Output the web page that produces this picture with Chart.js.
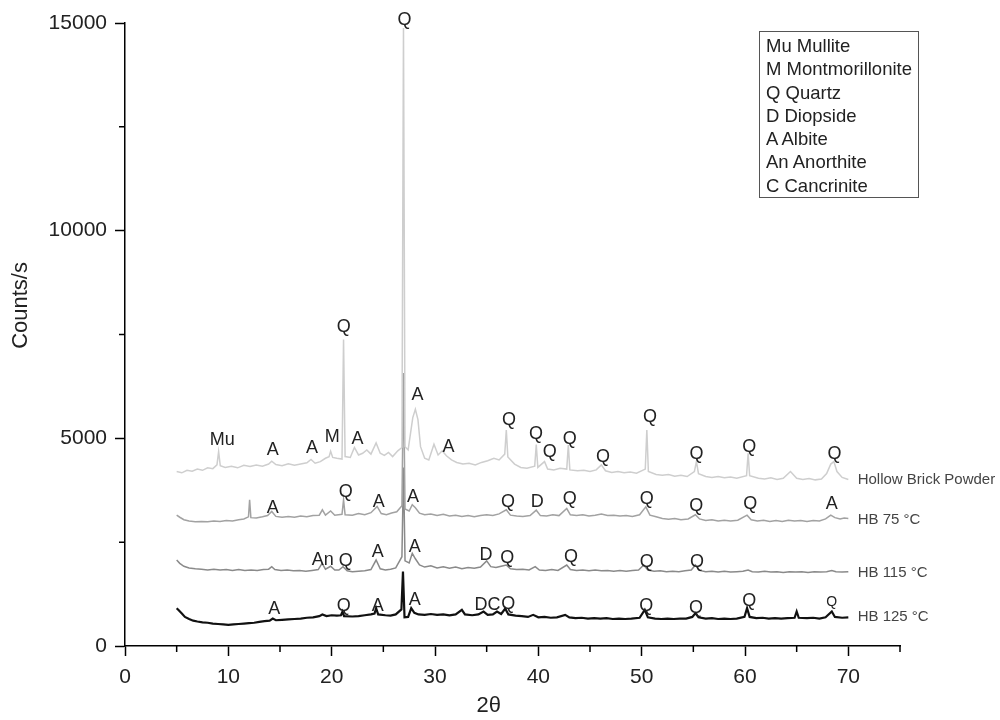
<!DOCTYPE html>
<html>
<head>
<meta charset="utf-8">
<script src="https://cdn.jsdelivr.net/npm/chart.js@4.4.1/dist/chart.umd.min.js"></script>
<style>
  body { margin: 0; background: #fff; }
  #wrap { position: relative; width: 1000px; height: 720px; }
  #phases {
    position: absolute; left: 759px; top: 31px; width: 160px; height: 167px;
    box-sizing: border-box; border: 1px solid #555; padding: 2px 0 0 6px;
    font: 18.5px "Liberation Sans", Arial, sans-serif; line-height: 23.3px; color: #222;
  }
</style>
</head>
<body>
<div id="wrap">
  <canvas id="chart"></canvas>
  <div id="phases"></div>
</div>
<script>
// XRD patterns, 2θ vs counts/s (curves are already offset in the picture)
const hollowBrick = [[5.0,4200],[5.5,4170],[6.0,4230],[6.5,4210],[7.0,4260],[7.5,4230],[8.0,4290],[8.5,4270],[8.9,4360],[9.06,4680],[9.22,4340],[9.7,4300],[10.3,4330],[10.9,4290],[11.5,4350],[12.1,4320],[12.7,4360],[13.3,4330],[13.9,4380],[14.2,4450],[14.6,4370],[15.2,4340],[15.8,4390],[16.4,4350],[17.0,4380],[17.6,4410],[18.0,4490],[18.4,4400],[18.9,4440],[19.4,4520],[19.75,4560],[19.9,4690],[20.1,4540],[20.5,4520],[21.0,4500],[21.15,7380],[21.3,4560],[21.8,4540],[22.2,4780],[22.6,4600],[23.0,4640],[23.4,4720],[23.8,4620],[24.3,4890],[24.7,4640],[25.1,4590],[25.5,4660],[25.9,4560],[26.4,4700],[26.8,4780],[26.95,14880],[27.1,4800],[27.4,4720],[27.85,5500],[28.1,5700],[28.35,5450],[28.6,4800],[29.0,4520],[29.4,4480],[29.9,4860],[30.3,4600],[30.7,4700],[31.1,4580],[31.6,4480],[32.1,4420],[32.7,4380],[33.3,4400],[33.9,4360],[34.5,4420],[35.1,4460],[35.7,4520],[36.2,4480],[36.75,4620],[36.9,5200],[37.05,4550],[37.7,4380],[38.3,4300],[38.9,4280],[39.65,4330],[39.8,4850],[39.95,4300],[40.6,4440],[40.9,4260],[41.5,4240],[42.1,4280],[42.75,4260],[42.9,4840],[43.05,4240],[43.8,4220],[44.4,4230],[45.0,4200],[45.6,4240],[46.1,4360],[46.5,4220],[47.1,4180],[47.7,4200],[48.3,4170],[48.9,4190],[49.5,4160],[50.35,4260],[50.5,5200],[50.65,4200],[51.4,4130],[52.0,4110],[52.6,4130],[53.2,4090],[53.8,4110],[54.4,4080],[55.1,4200],[55.3,4440],[55.5,4150],[56.2,4080],[56.8,4060],[57.4,4080],[58.0,4050],[58.6,4070],[59.2,4040],[60.15,4100],[60.3,4640],[60.45,4100],[61.3,4040],[61.9,4020],[62.5,4050],[63.1,4010],[63.7,4040],[64.4,4200],[65.0,4040],[65.6,4010],[66.2,4030],[66.8,4000],[67.4,4020],[67.9,4150],[68.3,4380],[68.6,4440],[68.9,4200],[69.4,4060],[70.0,4010]];

const hb75 = [[5.0,3150],[5.3,3100],[5.7,3040],[6.2,3010],[6.8,2990],[7.4,3000],[8.0,2990],[8.6,3010],[9.2,3000],[9.8,3020],[10.4,3010],[11.0,3040],[11.5,3060],[11.95,3110],[12.06,3520],[12.18,3090],[12.7,3080],[13.3,3110],[13.8,3140],[14.2,3240],[14.6,3120],[15.2,3100],[15.8,3120],[16.4,3100],[17.0,3130],[17.6,3110],[18.2,3140],[18.8,3150],[19.1,3280],[19.4,3150],[19.9,3250],[20.3,3150],[21.0,3170],[21.15,3520],[21.3,3160],[22.0,3150],[22.6,3190],[23.2,3160],[23.8,3210],[24.4,3360],[24.8,3190],[25.3,3160],[25.8,3200],[26.3,3230],[26.8,3380],[26.95,6570],[27.1,3300],[27.5,3250],[27.8,3400],[28.1,3330],[28.5,3200],[29.0,3160],[29.6,3180],[30.2,3140],[30.8,3170],[31.4,3130],[32.0,3150],[32.6,3120],[33.2,3140],[33.8,3110],[34.4,3140],[35.0,3160],[35.6,3140],[36.2,3180],[36.9,3280],[37.3,3150],[37.9,3130],[38.5,3120],[39.2,3140],[39.8,3270],[40.2,3140],[40.8,3130],[41.4,3160],[42.0,3140],[42.75,3310],[43.1,3160],[43.7,3140],[44.3,3160],[44.9,3130],[45.5,3150],[46.1,3180],[46.7,3140],[47.3,3150],[47.9,3130],[48.5,3140],[49.1,3120],[49.8,3160],[50.4,3350],[50.8,3150],[51.4,3110],[52.0,3070],[52.6,3050],[53.2,3070],[53.8,3040],[54.5,3060],[55.2,3160],[55.6,3060],[56.2,3020],[56.8,3040],[57.4,3010],[58.0,3030],[58.6,3010],[59.3,3030],[60.2,3150],[60.6,3040],[61.2,3010],[61.8,3030],[62.4,3000],[63.0,3020],[63.6,3000],[64.2,3030],[64.8,3010],[65.4,3020],[66.0,3000],[66.6,3020],[67.2,3010],[67.8,3060],[68.3,3150],[68.7,3090],[69.2,3060],[69.6,3080],[70.0,3070]];

const hb115 = [[5.0,2070],[5.3,1990],[5.7,1920],[6.2,1880],[6.8,1860],[7.4,1850],[8.0,1830],[8.6,1850],[9.2,1830],[9.8,1840],[10.4,1820],[11.0,1840],[11.6,1820],[12.2,1830],[12.8,1820],[13.4,1840],[13.9,1850],[14.2,1910],[14.5,1840],[15.1,1820],[15.7,1830],[16.3,1810],[16.9,1820],[17.5,1800],[18.1,1820],[18.7,1840],[19.07,1990],[19.4,1850],[19.9,1920],[20.3,1830],[20.7,1830],[21.1,1910],[21.5,1810],[22.0,1790],[22.6,1800],[23.2,1810],[23.8,1840],[24.3,2070],[24.7,1860],[25.2,1830],[25.7,1850],[26.2,1880],[26.8,2150],[26.95,4300],[27.1,2050],[27.5,2000],[27.8,2230],[28.1,2100],[28.5,1950],[29.0,1900],[29.6,1930],[30.2,1880],[30.8,1910],[31.4,1870],[32.0,1900],[32.6,1860],[33.2,1890],[33.8,1870],[34.4,1900],[35.0,2050],[35.4,1910],[35.9,1890],[36.4,1920],[36.9,1950],[37.3,1860],[37.9,1840],[38.5,1850],[39.1,1830],[39.7,1910],[40.1,1830],[40.7,1820],[41.3,1840],[41.9,1820],[42.75,1950],[43.1,1840],[43.7,1820],[44.3,1830],[44.9,1810],[45.5,1830],[46.1,1810],[46.7,1820],[47.3,1800],[47.9,1820],[48.5,1800],[49.1,1820],[49.7,1830],[50.2,1950],[50.6,1830],[51.2,1800],[51.8,1810],[52.4,1790],[53.0,1800],[53.6,1790],[54.2,1810],[54.8,1830],[55.2,1950],[55.6,1820],[56.2,1790],[56.8,1800],[57.4,1780],[58.0,1800],[58.6,1780],[59.2,1790],[59.8,1800],[60.3,1830],[60.7,1790],[61.3,1780],[61.9,1800],[62.5,1780],[63.1,1790],[63.7,1770],[64.3,1790],[64.9,1780],[65.5,1790],[66.1,1770],[66.7,1790],[67.3,1780],[67.9,1790],[68.4,1820],[68.8,1790],[69.4,1780],[70.0,1790]];

const hb125 = [[5.0,910],[5.2,860],[5.5,780],[5.8,700],[6.2,650],[6.6,610],[7.0,590],[7.5,570],[8.0,560],[8.5,540],[9.0,530],[9.5,520],[10.0,510],[10.5,520],[11.0,530],[11.5,540],[12.0,550],[12.5,560],[13.0,580],[13.5,600],[14.0,610],[14.3,660],[14.6,620],[15.2,630],[15.8,640],[16.4,650],[17.0,660],[17.6,680],[18.2,690],[18.8,720],[19.1,760],[19.5,720],[20.0,740],[20.5,730],[20.9,740],[21.05,830],[21.2,720],[22.0,710],[22.6,720],[23.2,740],[23.8,760],[24.15,780],[24.3,910],[24.5,760],[25.2,740],[25.7,730],[26.2,760],[26.75,880],[26.9,1790],[27.05,690],[27.4,700],[27.7,910],[28.0,800],[28.4,760],[29.0,750],[29.6,770],[30.2,750],[30.8,760],[31.4,740],[32.0,760],[32.6,870],[32.9,760],[33.6,740],[34.2,760],[34.7,830],[35.1,750],[35.6,760],[36.0,830],[36.4,770],[36.8,900],[37.1,760],[37.8,730],[38.4,720],[39.0,700],[39.5,750],[40.0,690],[40.6,700],[41.2,680],[41.8,690],[42.6,750],[43.0,690],[43.6,670],[44.2,680],[44.8,660],[45.4,670],[46.0,660],[46.6,670],[47.2,650],[47.8,660],[48.4,650],[49.0,660],[49.8,680],[50.3,870],[50.6,690],[51.3,660],[51.9,650],[52.5,660],[53.1,650],[53.7,660],[54.3,660],[54.9,700],[55.2,790],[55.5,690],[56.2,660],[56.8,670],[57.4,650],[58.0,660],[58.6,650],[59.2,660],[59.95,700],[60.2,910],[60.45,700],[61.1,670],[61.7,680],[62.3,660],[62.9,670],[63.5,660],[64.1,670],[64.8,680],[65.0,830],[65.2,680],[66.0,670],[66.6,680],[67.2,660],[67.8,690],[68.4,830],[68.7,700],[69.4,680],[70.0,690]];

const seriesNames = ["Hollow Brick Powder", "HB 75 °C", "HB 115 °C", "HB 125 °C"];
const seriesColors = ["#cecece", "#a2a2a2", "#8a8a8a", "#111111"];
// where each curve's name sits at the right end (2θ, counts)
const seriesLabelAt = [[70.9, 4005], [70.9, 3040], [70.9, 1770], [70.9, 700]];

// phase marks above the peaks: [2θ, counts, text]
const peakMarks = [
  [9.4,4960,"Mu"],[14.3,4712,"A"],[18.1,4768,"A"],[20.05,5040,"M"],[22.5,4977,"A"],
  [21.17,7690,"Q"],[27.05,15070,"Q"],[28.3,6044,"A"],[31.3,4800,"A"],
  [37.16,5442,"Q"],[39.78,5105,"Q"],[41.1,4671,"Q"],[43.04,4984,"Q"],[46.27,4539,"Q"],
  [50.8,5502,"Q"],[55.3,4623,"Q"],[60.4,4780,"Q"],[68.65,4623,"Q"],
  [14.3,3330,"A"],[21.37,3716,"Q"],[24.55,3455,"A"],[27.86,3576,"A"],[37.06,3455,"Q"],
  [39.9,3455,"D"],[43.04,3540,"Q"],[50.5,3540,"Q"],[55.28,3371,"Q"],[60.5,3420,"Q"],[68.4,3420,"A"],
  [19.14,2071,"An"],[21.37,2050,"Q"],[24.47,2251,"A"],[28.05,2372,"A"],[34.93,2191,"D"],
  [37.0,2110,"Q"],[43.15,2131,"Q"],[50.5,2010,"Q"],[55.35,2010,"Q"],
  [14.44,891,"A"],[21.17,963,"Q"],[24.47,963,"A"],[28.05,1108,"A"],[35.08,987,"DC"],
  [37.1,1011,"Q"],[50.44,963,"Q"],[55.26,915,"Q"],[60.4,1084,"Q"]
];
const smallMarks = [[68.4,1059,"Q"]];

const phaseKey = ["Mu Mullite", "M Montmorillonite", "Q Quartz", "D Diopside", "A Albite", "An Anorthite", "C Cancrinite"];

const xMinor = [5, 15, 25, 35, 45, 55, 65, 75];
const yMinor = [2500, 7500, 12500];
const xTitleAt = 35.2;
const yTitleAt = 8200;

document.getElementById("phases").innerHTML = phaseKey.join("<br>");

const FONT = "'Liberation Sans', Arial, sans-serif";

const marksPlugin = {
  id: "marks",
  afterDraw(chart) {
    const ctx = chart.ctx;
    const xs = chart.scales.x, ys = chart.scales.y;
    ctx.save();
    ctx.fillStyle = "#222";
    ctx.textAlign = "center";
    ctx.textBaseline = "middle";
    ctx.font = "18px " + FONT;
    peakMarks.forEach(m => ctx.fillText(m[2], xs.getPixelForValue(m[0]), ys.getPixelForValue(m[1])));
    ctx.font = "14px " + FONT;
    smallMarks.forEach(m => ctx.fillText(m[2], xs.getPixelForValue(m[0]), ys.getPixelForValue(m[1])));

    // axis titles
    ctx.font = "22px " + FONT;
    ctx.fillText("2θ", xs.getPixelForValue(xTitleAt), 706);
    ctx.save();
    ctx.translate(21, ys.getPixelForValue(yTitleAt));
    ctx.rotate(-Math.PI / 2);
    ctx.fillText("Counts/s", 0, 0);
    ctx.restore();

    ctx.textAlign = "left";
    ctx.fillStyle = "#444";
    ctx.font = "15px " + FONT;
    seriesNames.forEach((n, i) => {
      ctx.fillText(n, xs.getPixelForValue(seriesLabelAt[i][0]), ys.getPixelForValue(seriesLabelAt[i][1]));
    });

    // minor ticks
    ctx.strokeStyle = "#000";
    ctx.lineWidth = 1.5;
    ctx.beginPath();
    xMinor.forEach(v => {
      const px = xs.getPixelForValue(v);
      ctx.moveTo(px, ys.bottom);
      ctx.lineTo(px, ys.bottom + 6);
    });
    yMinor.forEach(v => {
      const py = ys.getPixelForValue(v);
      ctx.moveTo(xs.left, py);
      ctx.lineTo(xs.left - 6, py);
    });
    ctx.stroke();
    ctx.restore();
  }
};

const toPoints = arr => arr.map(p => ({ x: p[0], y: p[1] }));
const curves = [hollowBrick, hb75, hb115, hb125];

new Chart(document.getElementById("chart"), {
  type: "line",
  data: {
    datasets: curves.map((c, i) => ({
      label: seriesNames[i],
      data: toPoints(c),
      borderColor: seriesColors[i],
      borderWidth: i === 3 ? 2.2 : 1.5,
      pointRadius: 0,
      tension: 0,
      fill: false,
      clip: false
    }))
  },
  options: {
    responsive: true,
    maintainAspectRatio: false,
    animation: false,
    layout: { padding: { top: 23, right: 100, left: 0, bottom: 0 } },
    plugins: { legend: { display: false }, tooltip: { enabled: false } },
    scales: {
      x: {
        type: "linear",
        min: 0, max: 75,
        afterFit: s => { s.height = 74; },
        ticks: { stepSize: 10, includeBounds: false, color: "#222", padding: 9, font: { family: FONT, size: 21 } },
        grid: { drawOnChartArea: false, tickLength: 10, tickColor: "#000", tickWidth: 1.5 },
        border: { color: "#000", width: 1.5 }
      },
      y: {
        min: 0, max: 15000,
        afterFit: s => { s.width = 125; },
        ticks: { stepSize: 5000, color: "#222", padding: 8, font: { family: FONT, size: 21 }, callback: v => String(v) },
        grid: { drawOnChartArea: false, tickLength: 10, tickColor: "#000", tickWidth: 1.5 },
        border: { color: "#000", width: 1.5 }
      }
    }
  },
  plugins: [marksPlugin]
});
</script>
</body>
</html>
